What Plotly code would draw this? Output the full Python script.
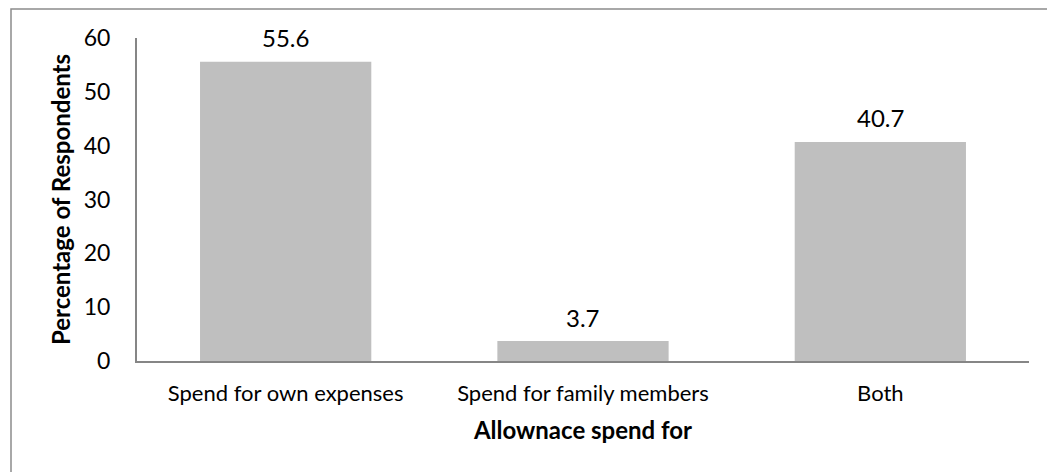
import plotly.graph_objects as go

categories = ["Spend for own expenses", "Spend for family members", "Both"]
values = [55.6, 3.7, 40.7]
value_labels = ["55.6", "3.7", "40.7"]
y_ticks = [0, 10, 20, 30, 40, 50, 60]

FONT = "Lato"
W, H = 1047, 464  # page body has an 8px default margin
L, T, R, B = 129, 30, 26, 111
PW, PH = W - L - R, H - T - B

fig = go.Figure(
    go.Bar(
        x=categories,
        y=values,
        marker=dict(color="#BFBFBF", line=dict(width=0)),
        hoverinfo="skip",
    )
)

for c, v, lab in zip(categories, values, value_labels):
    fig.add_annotation(
        x=c, y=v, text=lab, showarrow=False,
        xref="x", yref="y", yanchor="middle", yshift=24,
        font=dict(family=FONT, size=24, color="#000000"),
    )

fig.update_layout(
    width=W,
    height=H,
    margin=dict(l=L, r=R, t=T, b=B, autoexpand=False),
    plot_bgcolor="white",
    paper_bgcolor="white",
    bargap=0.424,
    showlegend=False,
    font=dict(family=FONT, color="#000000"),
    shapes=[
        dict(
            type="rect", xref="paper", yref="paper",
            x0=-(L - 3) / PW, x1=1.2, y0=-1.0, y1=1 + (T - 1) / PH,
            line=dict(color="#8C8C8C", width=1.5), fillcolor="rgba(0,0,0,0)",
            layer="below",
        )
    ],
)

fig.update_xaxes(
    showline=True, linecolor="#868686", linewidth=2,
    showgrid=False, ticks="", ticklabelstandoff=12,
    tickfont=dict(family=FONT, size=22, color="#000000"),
    title=dict(text="<b>Allownace spend for</b>", font=dict(family=FONT, size=24, color="#000000"), standoff=17),
)

fig.update_yaxes(
    range=[0, 60], tickvals=y_ticks,
    showline=True, linecolor="#868686", linewidth=2,
    showgrid=False, zeroline=False, ticks="", ticklabelstandoff=20,
    tickfont=dict(family=FONT, size=23, color="#000000"),
    title=dict(text="<b>Percentage of Respondents</b>", font=dict(family=FONT, size=24, color="#000000"), standoff=6),
)

fig.write_html("out.html")
